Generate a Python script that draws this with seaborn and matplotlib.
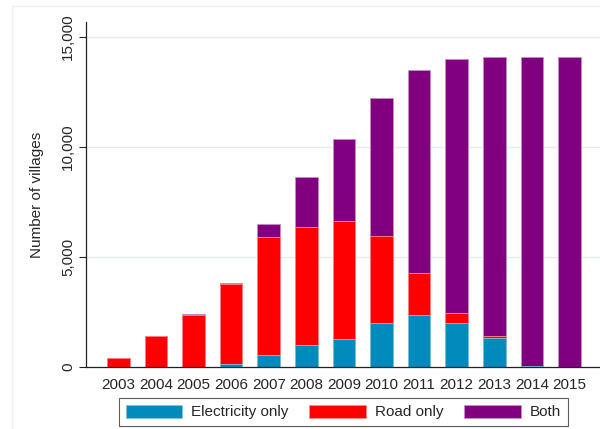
import numpy as np
import pandas as pd
import matplotlib
matplotlib.use("Agg")
import matplotlib.pyplot as plt
from matplotlib.patches import Rectangle
import seaborn as sns

# Villages reached each year, by type of connection
years = ["2003", "2004", "2005", "2006", "2007", "2008", "2009",
         "2010", "2011", "2012", "2013", "2014", "2015"]
electricity_only = [0, 0, 0, 150, 530, 990, 1250, 2000, 2350, 2020, 1340, 30, 0]
road_only = [410, 1400, 2350, 3600, 5380, 5360, 5380, 3940, 1940, 420, 90, 0, 0]
both = [0, 0, 80, 50, 580, 2270, 3720, 6290, 9200, 11580, 12650, 14060, 14090]

y_ticks = [0, 5000, 10000, 15000]
y_tick_labels = ["0", "5,000", "10,000", "15,000"]

BLUE = "#008bbc"
RED = "#ff0000"
PURPLE = "#800080"

df = pd.DataFrame({
    "year": years,
    "elec": electricity_only,
    "road": road_only,
    "both": both,
})
# cumulative heights for stacked layers (drawn back to front)
df["layer_elec"] = df["elec"]
df["layer_road"] = df["elec"] + df["road"]
df["layer_both"] = df["elec"] + df["road"] + df["both"]
for col in ["layer_elec", "layer_road", "layer_both"]:
    df[col] = df[col].where(df[col] > 0, np.nan)

sns.set_theme(style="white")
plt.rcParams["font.family"] = ["Liberation Sans", "DejaVu Sans"]

fig = plt.figure(figsize=(6.0, 4.29), dpi=100)
ax = fig.add_axes([86 / 600, 1 - 367 / 429, 1 - 86 / 600, (367 - 22) / 429])

# faint outer frame of the graph region
fig.patches.append(Rectangle((12 / 600, -0.1), 1.2, 1 - 6 / 429 + 0.1,
                             transform=fig.transFigure, fill=False,
                             edgecolor="#eef1f3", linewidth=1.0, zorder=0))

ax.set_axisbelow(True)
for y in y_ticks[1:]:
    ax.axhline(y, color="#e6ecee", linewidth=1.0, zorder=0)

layers = [
    ("layer_both", PURPLE, "#c58fc5", "Both"),
    ("layer_road", RED, "#ff8a8a", "Road only"),
    ("layer_elec", BLUE, "#7cc6e0", "Electricity only"),
]
for col, face, edge, lab in layers:
    sns.barplot(data=df, x="year", y=col, order=years, color=face,
                width=0.6, saturation=1, edgecolor=edge, linewidth=0.6,
                label=lab, ax=ax, errorbar=None)

ax.set_xlim(-0.86, 12.81)
ax.set_ylim(0, 15680)
ax.set_yticks(y_ticks)
ax.set_yticklabels(y_tick_labels, rotation=90, va="center", fontsize=11)
ax.tick_params(axis="y", length=5, width=0.8, color="#222222", pad=3,
               left=True)
ax.tick_params(axis="x", length=0, pad=8, labelsize=11)

ax.set_xlabel("")
ax.set_ylabel("Number of villages", fontsize=11, labelpad=12)

for side in ["top", "right"]:
    ax.spines[side].set_visible(False)
for side in ["left", "bottom"]:
    ax.spines[side].set_color("#222222")
    ax.spines[side].set_linewidth(0.9)

handles, labels = ax.get_legend_handles_labels()
if ax.get_legend() is not None:
    ax.get_legend().remove()
order = [labels.index(n) for n in ["Electricity only", "Road only", "Both"]]
leg = fig.legend([handles[i] for i in order], [labels[i] for i in order],
                 loc="center", bbox_to_anchor=(343.5 / 600, 1 - 412 / 429),
                 ncol=3, fontsize=11, frameon=True, fancybox=False,
                 handlelength=3.7, handleheight=0.95, handletextpad=0.6,
                 columnspacing=1.35, borderpad=0.45, borderaxespad=0)
leg.get_frame().set_edgecolor("#333333")
leg.get_frame().set_linewidth(0.8)

fig.savefig("out.png", dpi=100)
